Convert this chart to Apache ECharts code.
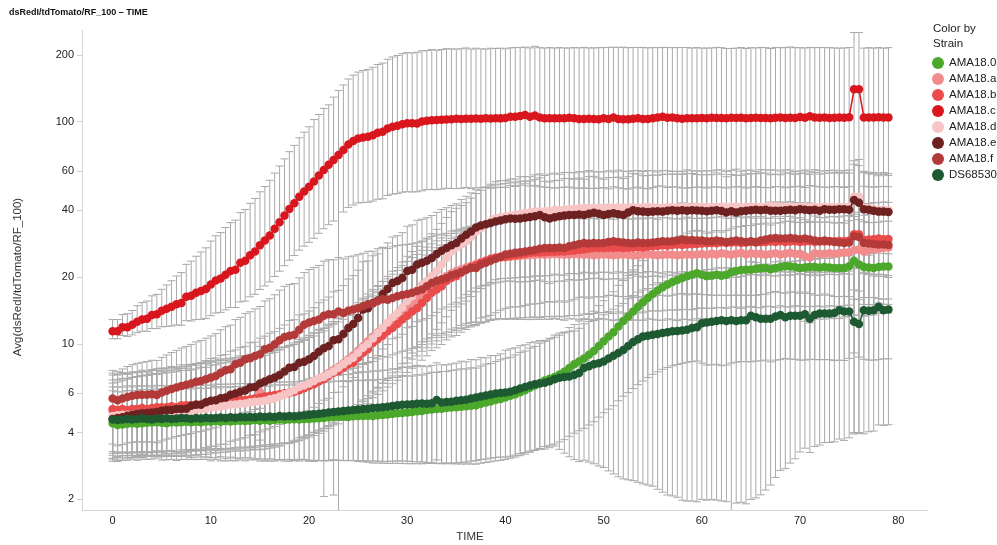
<!DOCTYPE html>
<html><head><meta charset="utf-8">
<script src="https://cdn.jsdelivr.net/npm/echarts@6/dist/echarts.min.js"></script>
<style>html,body{margin:0;padding:0;background:#fff}#c{width:997px;height:545px}</style>
</head><body><div id="c"></div>
<script>
// ---------- DATA ----------
const times = [
0,0.5,1,1.5,2,2.5,3,3.5,4,4.5, 5,5.5,6,6.5,7,7.5,8,8.5,9,9.5,
10,10.5,11,11.5,12,12.5,13,13.5,14,14.5, 15,15.5,16,16.5,17,17.5,18,18.5,19,19.5,
20,20.5,21,21.5,22,22.5,23,23.5,24,24.5, 25,25.5,26,26.5,27,27.5,28,28.5,29,29.5,
30,30.5,31,31.5,32,32.5,33,33.5,34,34.5, 35,35.5,36,36.5,37,37.5,38,38.5,39,39.5,
40,40.5,41,41.5,42,42.5,43,43.5,44,44.5, 45,45.5,46,46.5,47,47.5,48,48.5,49,49.5,
50,50.5,51,51.5,52,52.5,53,53.5,54,54.5, 55,55.5,56,56.5,57,57.5,58,58.5,59,59.5,
60,60.5,61,61.5,62,62.5,63,63.5,64,64.5, 65,65.5,66,66.5,67,67.5,68,68.5,69,69.5,
70,70.5,71,71.5,72,72.5,73,73.5,74,74.5, 75,75.5,76,76.5,77,77.5,78,78.5,79];

const xTicks = [0,10,20,30,40,50,60,70,80];
const yTicks = [2,4,6,10,20,40,60,100,200];

const strains = ['AMA18.0','AMA18.a','AMA18.b','AMA18.c','AMA18.d','AMA18.e','AMA18.f','DS68530'];

const ama0 = [
4.4,4.32,4.35,4.38,4.4,4.38,4.4,4.42,4.43,4.45,
4.42,4.4,4.45,4.43,4.45,4.47,4.45,4.47,4.45,4.48,
4.47,4.5,4.47,4.5,4.48,4.5,4.52,4.5,4.52,4.55,
4.52,4.55,4.52,4.55,4.57,4.55,4.57,4.59,4.58,4.6,
4.6,4.62,4.63,4.65,4.68,4.7,4.71,4.72,4.7,4.73,
4.74,4.75,4.76,4.75,4.78,4.8,4.82,4.85,4.88,4.9,
4.92,4.95,4.98,5.0,5.05,5.08,5.1,5.12,5.15,5.18,
5.2,5.22,5.25,5.28,5.3,5.38,5.45,5.52,5.6,5.66,
5.75,5.85,5.95,6.07,6.2,6.35,6.5,6.68,6.85,6.98,
7.1,7.3,7.5,7.8,8.1,8.35,8.6,8.95,9.3,9.8,
10.3,10.8,11.3,12.0,12.7,13.3,14.0,14.7,15.4,16.1,
16.8,17.4,18.0,18.5,19.0,19.4,19.8,20.2,20.5,20.8,
20.5,20.2,20.3,20.5,20.3,20.5,21.0,21.3,21.5,21.6,
21.6,21.8,21.9,22.0,21.7,22.0,22.2,22.4,22.3,22.2,
22.0,22.1,22.2,22.2,22.1,22.2,22.1,22.0,22.0,22.0,
22.4,23.7,22.8,22.2,22.1,22.0,22.2,22.3,22.3];

const amaA = [
5.0,5.0,5.05,5.0,5.05,5.05,5.1,5.05,5.1,5.1,
5.15,5.15,5.2,5.15,5.2,5.2,5.25,5.25,5.3,5.3,
5.35,5.35,5.4,5.4,5.45,5.45,5.5,5.55,5.6,5.6,
6.1,5.7,5.75,5.8,5.85,5.95,6.0,6.1,6.25,6.4,
6.6,6.78,6.95,7.15,7.4,7.65,7.9,8.2,8.55,8.9,
9.35,9.8,10.3,10.8,11.3,11.8,12.2,12.8,13.4,14.1,
14.8,15.4,16.0,16.8,17.5,18.2,18.9,19.6,20.2,20.8,
21.3,21.7,22.1,22.5,22.9,23.3,23.6,24.0,24.3,24.5,
24.6,24.7,24.8,24.9,25.0,25.1,25.2,25.3,25.2,25.3,
25.4,25.3,25.2,25.3,25.4,25.3,25.2,25.3,25.1,25.2,
25.3,25.2,25.1,25.2,25.3,25.2,25.0,25.1,25.2,25.3,
25.2,25.1,25.2,25.3,25.2,25.1,25.2,25.3,25.2,25.3,
25.4,25.2,25.5,25.3,25.6,25.4,25.2,25.5,25.7,25.3,
25.6,25.4,25.5,25.2,25.4,25.6,25.3,25.5,25.7,25.4,
25.5,24.8,24.5,25.6,25.4,25.5,25.6,25.5,25.7,25.8,
25.9,26.4,26.6,26.0,26.4,26.6,26.8,27.0,27.2];

const amaB = [
5.1,5.05,5.1,5.05,5.1,5.1,5.15,5.1,5.15,5.2,
5.2,5.2,5.25,5.2,5.3,5.3,5.3,5.35,5.35,5.4,
5.4,5.45,5.45,5.5,5.5,5.55,5.6,5.6,5.65,5.7,
5.75,5.8,5.85,5.9,5.95,6.0,6.05,6.1,6.2,6.33,
6.48,6.59,6.78,6.94,7.18,7.43,7.57,7.83,8.10,8.24,
8.68,9.14,9.47,10.1,10.5,10.9,11.4,11.8,12.3,12.9,
13.4,14.0,14.5,15.3,16.1,17.0,17.6,18.2,19.2,19.8,
20.2,20.9,21.6,22.2,22.6,23.2,23.7,24.2,24.5,24.6,
24.6,24.9,25.1,25.3,25.5,25.7,25.8,25.8,25.9,26.0,
26.0,26.1,26.1,26.2,26.3,26.5,26.6,26.8,27.0,27.0,
27.0,27.1,27.0,27.2,27.0,27.1,27.2,27.3,27.2,27.4,
27.5,27.6,27.8,27.7,27.9,28.0,27.9,28.0,28.1,28.2,
28.3,28.4,28.5,28.4,28.6,28.5,28.6,28.7,28.5,28.6,
28.8,28.6,28.7,28.8,28.9,28.8,29.0,28.8,28.9,29.0,
28.8,28.9,29.0,28.8,29.0,28.9,29.0,29.0,29.1,29.0,
29.2,31.2,31.2,29.4,29.5,29.6,29.8,29.6,29.7];

const amaC = [
11.4,11.4,11.9,11.9,12.2,12.6,12.9,13.0,13.5,13.6,
14.1,14.4,14.7,15.1,15.3,16.3,16.5,17.0,17.3,17.7,
18.5,19.3,19.7,20.5,21.3,21.6,23.2,23.7,25.1,26.1,
27.8,29.2,30.8,33.0,35.3,37.8,40.5,43.0,46.0,48.5,
51.0,53.8,57.3,60.7,64.0,67.2,70.8,74.6,79.0,81.8,
84.0,84.9,85.5,87.0,89.1,90.0,93.2,94.9,95.9,97.3,
98.3,98.5,98.2,100.2,100.9,101.6,101.8,102.0,102.4,102.6,
103.0,102.8,103.2,103.0,103.4,103.2,103.6,103.4,103.6,103.5,
103.8,105.3,105.3,106.1,107.2,105.3,106.5,104.5,103.6,103.6,
103.6,103.6,103.6,104.2,103.6,102.8,102.8,103.2,102.8,102.5,
103.6,102.8,104.5,102.8,102.5,102.5,103.2,103.6,102.8,102.8,
103.6,104.5,105.3,104.2,104.5,103.6,103.2,103.6,103.6,103.6,
104.0,103.6,104.2,103.8,104.0,103.6,104.2,104.0,104.2,103.6,
104.0,104.2,103.8,104.0,103.6,104.2,104.5,104.0,104.2,104.0,
105.0,104.2,105.8,104.5,104.2,104.5,104.0,104.2,104.5,104.2,
104.6,139.9,139.9,104.5,104.5,104.5,104.6,104.4,104.5];

const amaD = [
4.75,4.78,4.8,4.8,4.82,4.85,4.85,4.88,4.9,4.9,
4.92,4.95,4.95,4.97,5.0,5.0,5.0,5.05,5.1,5.1,
5.19,5.2,5.25,5.28,5.33,5.35,5.38,5.4,5.47,5.5,
5.52,5.56,5.64,5.7,5.8,5.95,6.05,6.2,6.4,6.5,
6.64,6.82,7.01,7.11,7.31,7.52,7.83,8.10,8.40,8.68,
9.14,9.63,10.0,10.6,11.2,11.8,12.5,13.2,13.8,14.6,
15.6,16.4,17.4,18.5,19.2,20.2,21.3,22.8,24.4,26.1,
27.2,28.0,29.0,30.4,32.1,33.2,34.4,35.6,36.8,37.2,
37.5,37.8,38.1,38.5,38.8,39.0,39.5,39.6,39.5,39.8,
40.2,40.0,40.2,40.5,40.6,40.8,41.0,41.0,40.8,41.0,
41.0,41.2,41.0,41.2,41.0,41.2,41.2,41.0,41.2,41.3,
41.2,41.0,41.0,41.2,41.2,41.0,41.2,41.3,41.2,41.4,
41.4,41.2,41.4,41.3,41.5,41.2,41.4,41.6,41.3,41.4,
41.5,41.2,41.4,41.6,41.8,41.5,41.4,41.3,41.5,41.2,
41.4,41.5,41.3,41.4,41.2,41.4,41.3,41.2,41.4,41.3,
41.5,46.0,46.0,41.0,40.8,40.5,40.2,40.2,40.0];

const amaE = [
4.6,4.65,4.68,4.76,4.81,4.85,4.88,4.9,4.92,4.95,
5.01,5.05,5.05,5.1,5.1,5.12,5.27,5.33,5.33,5.47,
5.55,5.58,5.7,5.74,5.91,5.99,6.1,6.18,6.37,6.41,
6.64,6.78,6.94,7.06,7.26,7.52,7.83,7.89,8.24,8.33,
8.53,8.83,9.24,9.56,9.80,10.4,10.5,11.1,11.8,12.3,
13.1,14.3,14.5,15.3,15.7,16.8,17.7,18.8,19.2,19.8,
21.3,21.6,22.8,23.2,23.7,24.4,25.4,26.3,27.0,27.8,
28.5,29.8,31.0,32.1,33.4,34.1,34.6,35.0,35.6,35.9,
36.4,36.7,36.6,36.7,37.0,37.3,37.6,38.0,37.2,36.7,
37.2,37.6,37.8,38.0,38.0,38.2,38.0,38.5,38.9,38.5,
38.0,38.4,38.7,38.3,38.0,39.0,40.0,39.6,39.4,39.2,
39.4,39.6,39.4,39.8,40.0,39.8,40.0,39.8,40.0,39.9,
39.8,39.6,39.8,40.0,39.7,39.0,39.6,39.0,39.6,39.8,
40.0,40.2,40.0,40.2,39.8,39.8,39.8,40.0,40.2,40.0,
40.4,40.2,40.0,40.2,39.8,40.4,40.2,40.2,40.4,40.4,
40.2,44.4,43.2,40.4,40.2,39.8,39.4,39.4,39.2];

const amaF = [
5.68,5.58,5.68,5.78,5.85,5.89,5.91,5.91,5.95,5.9,
6.05,6.16,6.27,6.37,6.48,6.55,6.64,6.76,6.82,6.94,
7.06,7.18,7.43,7.62,7.70,8.10,8.24,8.53,8.62,8.83,
8.99,9.47,9.63,9.97,10.4,10.75,10.9,11.0,11.6,12.2,
12.5,12.7,12.9,13.4,13.6,13.6,14.0,13.8,14.1,14.3,
14.5,14.8,15.1,15.2,15.6,15.9,15.8,16.1,16.4,16.6,
16.8,17.0,17.3,17.6,18.2,18.8,19.2,19.5,19.8,20.4,
20.7,21.1,21.6,22.0,22.0,22.8,23.2,23.7,24.2,24.7,
25.3,25.5,25.7,25.9,26.1,26.3,26.5,26.8,27.0,27.0,
27.0,27.2,27.0,27.5,27.8,28.2,28.5,28.3,28.5,28.4,
28.5,28.8,29.0,28.8,28.6,28.5,28.4,28.6,28.5,28.5,
28.6,28.8,29.0,28.9,29.0,29.2,29.5,29.3,29.4,29.2,
29.2,29.0,29.0,29.2,29.0,28.8,29.0,29.2,29.0,28.8,
29.0,28.8,29.2,29.5,29.8,30.0,29.8,29.8,30.0,29.8,
29.6,29.8,29.5,29.2,29.0,29.2,29.0,28.8,28.6,28.5,
28.6,30.5,30.3,28.5,28.3,28.2,28.0,28.0,27.9];

const ds68530 = [
4.58,4.55,4.57,4.6,4.58,4.6,4.62,4.6,4.58,4.62,
4.6,4.63,4.6,4.62,4.65,4.63,4.6,4.65,4.62,4.66,
4.63,4.65,4.67,4.65,4.68,4.66,4.7,4.68,4.7,4.68,
4.72,4.7,4.72,4.7,4.74,4.72,4.75,4.73,4.76,4.78,
4.8,4.83,4.85,4.88,4.92,4.95,4.97,5.0,5.02,5.05,
5.08,5.1,5.12,5.15,5.17,5.19,5.22,5.26,5.3,5.33,
5.35,5.36,5.38,5.4,5.38,5.42,5.6,5.45,5.48,5.5,
5.55,5.58,5.62,5.68,5.74,5.8,5.86,5.92,5.99,6.02,
6.05,6.1,6.2,6.3,6.4,6.5,6.6,6.65,6.7,6.8,
6.95,7.05,7.1,7.15,7.25,7.4,7.8,7.95,8.1,8.2,
8.35,8.6,8.85,9.1,9.4,9.8,10.2,10.5,10.8,10.9,
11.0,11.1,11.2,11.3,11.4,11.45,11.5,11.6,11.8,11.9,
12.4,12.5,12.6,12.7,12.8,12.7,12.8,12.7,12.8,12.8,
13.4,13.2,13.0,13.0,13.0,13.3,13.5,13.2,13.4,13.4,
13.4,13.6,13.0,13.5,13.7,13.7,13.7,13.8,14.2,14.0,
14.0,12.6,12.3,14.2,14.1,14.2,14.7,14.2,14.3];

// error-bar spread: upper multiplier and lower divisor per point
const errUpC = [
1.13,1.13,1.14,1.15,1.16,1.18,1.19,1.2,1.22,1.23,
1.25,1.28,1.31,1.34,1.37,1.4,1.43,1.46,1.5,1.53,
1.57,1.59,1.61,1.63,1.65,1.67,1.68,1.7,1.71,1.73,
1.74,1.75,1.77,1.78,1.79,1.8,1.81,1.82,1.84,1.85,
1.86,1.9,1.88,1.89,1.86,1.92,1.95,1.96,1.97,1.98,
1.99,2.0,2.01,2.02,2.03,2.04,2.05,2.06,2.07,2.08,
2.08,2.07,2.09,2.08,2.07,2.08,2.06,2.07,2.08,2.07,
2.06,2.07,2.08,2.06,2.07,2.06,2.05,2.07,2.06,2.07,
2.05,2.04,2.05,2.03,2.02,2.04,2.05,2.06,2.07,2.08,
2.07,2.08,2.07,2.06,2.08,2.09,2.1,2.08,2.09,2.1,
2.08,2.1,2.07,2.1,2.11,2.1,2.09,2.08,2.1,2.09,
2.08,2.06,2.05,2.07,2.06,2.08,2.09,2.08,2.07,2.08,
2.06,2.07,2.06,2.08,2.07,2.06,2.05,2.06,2.07,2.06,
2.07,2.06,2.08,2.07,2.06,2.07,2.06,2.07,2.08,2.07,
2.05,2.06,2.04,2.06,2.07,2.06,2.07,2.06,2.05,2.06,
2.06,1.8,1.8,2.05,2.06,2.05,2.06,2.05,2.06];
const errLoC = [
1.08,1.08,1.09,1.1,1.11,1.12,1.13,1.14,1.15,1.16,
1.18,1.2,1.22,1.24,1.26,1.28,1.3,1.32,1.34,1.36,
1.38,1.4,1.42,1.44,1.46,1.48,1.5,1.52,1.54,1.56,
1.58,1.6,1.62,1.64,1.66,1.68,1.7,1.72,1.74,1.76,
1.78,1.8,1.82,1.84,1.86,1.88,60,1.9,1.92,1.94,
1.95,1.96,1.97,1.98,1.99,2.0,2.0,2.01,2.02,2.02,
2.03,2.04,2.03,2.05,2.04,2.05,2.06,2.05,2.04,2.05,
2.06,2.05,2.04,2.06,2.05,2.04,2.05,2.06,2.05,2.04,
2.05,2.04,2.06,2.05,2.04,2.05,2.06,2.05,2.04,2.05,
2.06,2.05,2.04,2.05,2.06,2.05,2.04,2.06,2.05,2.04,
2.05,2.06,2.05,2.04,2.05,2.06,2.05,2.04,2.05,2.06,
2.05,2.04,2.05,2.06,2.05,2.04,2.05,2.06,2.05,2.04,
2.05,2.06,2.05,2.04,2.05,2.06,2.05,2.04,2.05,2.06,
2.05,2.04,2.05,2.06,2.05,2.04,2.05,2.06,2.05,2.04,
2.05,2.06,2.05,2.04,2.05,2.06,2.05,2.04,2.05,2.06,
2.05,35,35,2.04,2.05,2.06,2.05,2.04,2.05];
const errUpMid = [
1.45,1.45,1.46,1.46,1.47,1.47,1.48,1.48,1.49,1.49,
1.5,1.5,1.51,1.51,1.52,1.52,1.53,1.53,1.54,1.54,
1.55,1.55,1.56,1.56,1.57,1.57,1.58,1.58,1.59,1.59,
1.6,1.6,1.61,1.61,1.62,1.62,1.63,1.63,1.64,1.64,
1.65,1.65,1.66,1.65,1.66,1.65,1.66,1.65,1.66,1.65,
1.64,1.64,1.63,1.63,1.62,1.62,1.61,1.61,1.6,1.6,
1.59,1.59,1.58,1.57,1.56,1.55,1.54,1.53,1.52,1.51,
1.5,1.5,1.49,1.49,1.48,1.48,1.47,1.47,1.46,1.46,
1.45,1.46,1.45,1.47,1.46,1.45,1.46,1.47,1.45,1.46,
1.46,1.45,1.47,1.46,1.45,1.46,1.45,1.47,1.46,1.45,
1.45,1.46,1.45,1.47,1.46,1.45,1.46,1.47,1.45,1.46,
1.46,1.45,1.47,1.46,1.45,1.46,1.45,1.47,1.46,1.45,
1.45,1.46,1.45,1.47,1.46,1.45,1.46,1.47,1.45,1.46,
1.46,1.45,1.47,1.46,1.45,1.46,1.45,1.47,1.46,1.45,
1.45,1.46,1.45,1.47,1.46,1.45,1.46,1.47,1.45,1.46,
1.46,1.45,1.47,1.46,1.45,1.46,1.45,1.47,1.46];
const errLoMid = [
1.55,1.55,1.56,1.55,1.56,1.56,1.57,1.56,1.57,1.57,
1.58,1.57,1.58,1.58,1.59,1.58,1.59,1.59,1.6,1.6,
1.6,1.61,1.61,1.62,1.62,1.62,1.63,1.63,1.64,1.64,
1.65,1.65,1.66,1.66,1.67,1.67,1.68,1.68,1.69,1.69,
1.7,1.7,1.71,1.71,1.72,1.72,1.73,1.73,1.74,1.74,
1.75,1.75,1.76,1.76,1.77,1.77,1.78,1.78,1.79,1.79,
1.8,1.8,1.81,1.81,1.82,1.82,1.83,1.83,1.84,1.84,
1.85,1.85,1.86,1.86,1.87,1.87,1.88,1.88,1.89,1.89,
1.9,1.91,1.92,1.93,1.94,1.95,1.95,1.96,1.95,1.96,
1.95,1.96,1.97,1.95,1.96,1.97,1.95,1.96,1.97,1.95,
1.95,1.96,1.97,1.95,1.96,1.97,1.95,1.96,1.97,1.95,
1.95,1.96,1.97,1.95,1.96,1.97,1.95,1.96,1.97,1.95,
1.95,1.96,1.97,1.95,1.96,1.97,1.95,1.96,1.97,1.95,
1.95,1.96,1.97,1.95,1.96,1.97,1.95,1.96,1.97,1.95,
1.95,1.96,1.97,1.95,1.96,1.97,1.95,1.96,1.97,1.95,
1.95,1.96,1.97,1.95,1.96,1.97,1.95,1.96,1.97];
const errUpF = [
1.34,1.35,1.36,1.37,1.38,1.39,1.4,1.41,1.42,1.43,
1.44,1.45,1.46,1.47,1.48,1.49,1.5,1.51,1.52,1.53,
1.54,1.55,1.56,1.57,1.58,1.59,1.6,1.61,1.62,1.63,
1.64,1.65,1.66,1.67,1.68,1.69,1.7,1.7,1.71,1.72,
1.73,1.74,1.75,1.76,1.76,1.76,1.75,1.75,1.75,1.74,
1.74,1.73,1.73,1.72,1.72,1.71,1.7,1.7,1.69,1.68,
1.67,1.66,1.65,1.64,1.63,1.62,1.61,1.6,1.59,1.58,
1.57,1.56,1.55,1.54,1.53,1.52,1.51,1.5,1.49,1.48,
1.47,1.46,1.46,1.45,1.46,1.45,1.46,1.45,1.46,1.45,
1.46,1.45,1.46,1.45,1.46,1.45,1.46,1.45,1.46,1.45,
1.46,1.45,1.46,1.45,1.46,1.45,1.46,1.45,1.46,1.45,
1.46,1.45,1.46,1.45,1.46,1.45,1.46,1.45,1.46,1.45,
1.46,1.45,1.46,1.45,1.46,1.45,1.46,1.45,1.46,1.45,
1.46,1.45,1.46,1.45,1.46,1.45,1.46,1.45,1.46,1.45,
1.46,1.45,1.46,1.45,1.46,1.45,1.46,1.45,1.46,1.45,
1.46,1.45,1.46,1.45,1.46,1.45,1.46,1.45,1.46];
const errLoF = [
1.6,1.6,1.61,1.61,1.62,1.62,1.63,1.63,1.64,1.64,
1.65,1.65,1.66,1.66,1.67,1.67,1.68,1.68,1.69,1.69,
1.7,1.7,1.71,1.71,1.72,1.72,1.73,1.73,1.74,1.74,
1.75,1.75,1.76,1.76,1.77,1.77,1.78,1.78,1.79,1.79,
1.8,1.8,1.81,6.5,1.82,6.5,1.83,1.83,1.84,1.84,
1.84,1.83,1.83,1.82,1.82,1.81,1.81,1.8,1.8,1.79,
1.79,1.78,1.78,1.77,1.77,1.76,1.76,1.75,1.75,1.75,
1.75,1.74,1.75,1.76,1.75,1.74,1.75,1.76,1.75,1.74,
1.75,1.74,1.75,1.76,1.75,1.74,1.75,1.76,1.75,1.74,
1.75,1.74,1.75,1.76,1.75,1.74,1.75,1.76,1.75,1.74,
1.75,1.74,1.75,1.76,1.75,1.74,1.75,1.76,1.75,1.74,
1.75,1.74,1.75,1.76,1.75,1.74,1.75,1.76,1.75,1.74,
1.75,1.74,1.75,1.76,1.75,1.74,1.75,1.76,1.75,1.74,
1.75,1.74,1.75,1.76,1.75,1.74,1.75,1.76,1.75,1.74,
1.75,1.74,1.75,1.76,1.75,1.74,1.75,1.76,1.75,1.74,
1.75,1.74,1.75,1.76,1.75,1.74,1.75,1.76,1.75];
const errUpG = [
1.4,1.41,1.4,1.41,1.4,1.41,1.42,1.41,1.4,1.41,
1.41,1.42,1.41,1.42,1.41,1.42,1.41,1.42,1.42,1.41,
1.42,1.43,1.42,1.43,1.42,1.43,1.42,1.43,1.43,1.42,
1.43,1.42,1.43,1.44,1.43,1.44,1.43,1.44,1.43,1.44,
1.44,1.45,1.44,1.45,1.44,1.45,1.44,1.45,1.44,1.45,
1.45,1.44,1.45,1.44,1.45,1.44,1.45,1.46,1.45,1.46,
1.46,1.45,1.46,1.45,1.46,1.47,1.46,1.47,1.46,1.47,
1.47,1.48,1.47,1.48,1.47,1.48,1.49,1.48,1.49,1.5,
1.5,1.49,1.5,1.51,1.5,1.51,1.5,1.51,1.5,1.51,
1.51,1.5,1.51,1.52,1.51,1.52,1.51,1.52,1.51,1.52,
1.52,1.53,1.52,1.53,1.52,1.53,1.54,1.53,1.54,1.55,
1.55,1.54,1.55,1.56,1.55,1.56,1.55,1.56,1.57,1.56,
1.57,1.56,1.57,1.58,1.57,1.58,1.57,1.58,1.57,1.58,
1.58,1.59,1.58,1.59,1.58,1.59,1.58,1.59,1.6,1.59,
1.6,1.59,1.6,1.59,1.6,1.59,1.6,1.59,1.6,1.59,
1.6,1.58,1.59,1.6,1.59,1.6,1.59,1.6,1.6];
const errLoG = [
1.45,1.46,1.45,1.46,1.45,1.46,1.45,1.46,1.46,1.45,
1.47,1.46,1.47,1.48,1.47,1.48,1.47,1.48,1.47,1.48,
1.5,1.49,1.5,1.51,1.5,1.51,1.5,1.51,1.5,1.51,
1.52,1.53,1.52,1.53,1.52,1.53,1.54,1.53,1.54,1.53,
1.55,1.56,1.55,1.56,1.57,1.56,1.57,1.58,1.57,1.58,
1.6,1.61,1.62,1.63,1.64,1.65,1.66,1.67,1.68,1.69,
1.7,1.71,1.72,1.73,1.74,1.75,1.76,1.77,1.78,1.79,
1.8,1.81,1.82,1.83,1.84,1.85,1.86,1.87,1.88,1.89,
1.9,1.91,1.92,1.93,1.94,1.95,1.96,1.97,1.98,1.99,
2.0,2.01,2.02,2.03,2.04,2.05,2.06,2.07,2.08,2.09,
2.1,2.12,2.14,2.16,2.18,2.2,2.22,2.24,2.26,2.28,
2.3,2.32,2.34,2.36,2.38,2.4,2.42,2.44,2.46,2.48,
2.5,2.51,2.52,2.53,2.54,2.55,2.56,2.57,2.58,2.59,
2.6,2.6,2.61,2.6,2.61,2.6,2.61,2.6,2.61,2.6,
2.6,2.61,2.6,2.61,2.6,2.61,2.6,2.61,2.6,2.61,
2.6,2.6,2.61,2.6,2.61,2.6,2.61,2.6,2.6];
const errUpDG = [
1.4,1.41,1.4,1.41,1.4,1.41,1.4,1.41,1.4,1.41,
1.41,1.4,1.41,1.4,1.41,1.4,1.41,1.4,1.41,1.4,
1.41,1.42,1.41,1.42,1.41,1.42,1.41,1.42,1.41,1.42,
1.42,1.43,1.42,1.43,1.42,1.43,1.42,1.43,1.42,1.43,
1.45,1.46,1.45,1.46,1.45,1.46,1.45,1.46,1.45,1.46,
1.46,1.47,1.46,1.47,1.46,1.47,1.46,1.47,1.46,1.47,
1.47,1.48,1.47,1.48,1.47,1.48,1.47,1.48,1.47,1.48,
1.48,1.5,1.48,1.5,1.48,1.5,1.48,1.5,1.48,1.5,
1.55,1.56,1.55,1.56,1.55,1.56,1.55,1.56,1.55,1.56,
1.58,1.59,1.58,1.59,1.58,1.59,1.58,1.59,1.58,1.59,
1.62,1.63,1.62,1.63,1.62,1.63,1.62,1.63,1.62,1.63,
1.68,1.7,1.68,1.7,1.68,1.7,1.68,1.7,1.68,1.7,
1.72,1.73,1.72,1.73,1.72,1.73,1.72,1.73,1.72,1.73,
1.75,1.76,1.75,1.76,1.75,1.76,1.75,1.76,1.75,1.76,
1.77,1.78,1.77,1.78,1.77,1.78,1.77,1.78,1.77,1.78,
1.78,1.8,1.78,1.8,1.78,1.8,1.78,1.8,1.78];
const errLoDG = [
1.45,1.46,1.45,1.46,1.45,1.46,1.45,1.46,1.45,1.46,
1.47,1.48,1.47,1.48,1.49,1.48,1.49,1.48,1.49,1.5,
1.5,1.51,1.5,1.52,1.51,1.52,1.53,1.52,1.53,1.54,
1.55,1.56,1.55,1.56,1.57,1.56,1.57,1.58,1.57,1.58,
1.6,1.61,1.62,1.63,1.64,1.65,1.66,1.67,1.68,1.69,
1.7,1.71,1.72,1.73,1.74,1.75,1.76,1.77,1.78,1.79,
1.8,1.81,1.82,1.83,1.84,1.85,1.86,1.87,1.88,1.89,
1.9,1.9,1.91,1.91,1.92,1.92,1.93,1.93,1.94,1.94,
1.95,1.95,1.96,1.96,1.97,1.97,1.98,1.98,1.99,1.99,
2.0,2.1,2.2,2.3,2.4,2.5,2.6,2.7,2.8,2.9,
3.0,3.2,3.4,3.6,3.8,4.0,4.2,4.4,4.6,4.7,
4.8,5.0,5.2,5.4,5.5,5.6,5.8,5.9,6.0,6.1,
6.2,6.3,6.3,6.4,6.5,6.5,20,6.6,6.6,6.7,
6.7,6.5,6.2,5.9,5.6,5.3,5.0,4.8,4.6,4.4,
4.1,4.0,4.0,3.9,3.9,3.8,3.8,3.8,3.8,3.8,
3.7,3.2,3.1,3.6,3.5,3.5,3.4,3.3,3.3];

// ---------- CHART ----------
const FONT = "'Liberation Sans', Arial, Helvetica, sans-serif";
const Y_MIN = 1.792, Y_MAX = 258.5;
const X_MIN = -3.12, X_MAX = 83.03;
const BAR = '#a9a9a9';

const seriesDefs = [
  {name: strains[0], color: '#4ba82a', vals: ama0,    up: errUpG,   lo: errLoG},
  {name: strains[1], color: '#f28b8b', vals: amaA,    up: errUpMid, lo: errLoMid},
  {name: strains[2], color: '#ea4b4b', vals: amaB,    up: errUpMid, lo: errLoMid},
  {name: strains[3], color: '#d9161d', vals: amaC,    up: errUpC,   lo: errLoC},
  {name: strains[4], color: '#f7c5c5', vals: amaD,    up: errUpMid, lo: errLoMid},
  {name: strains[5], color: '#6e2121', vals: amaE,    up: errUpMid, lo: errLoMid},
  {name: strains[6], color: '#b43a3a', vals: amaF,    up: errUpF,   lo: errLoF},
  {name: strains[7], color: '#1e5a31', vals: ds68530, up: errUpDG,  lo: errLoDG}
];

function errSeries(d, k) {
  return {
    type: 'custom', name: d.name + ' err', silent: true, z: 1,
    clip: true, animation: false, legendHoverLink: false,
    encode: {x: 0, y: 1},
    data: times.map((t, i) => [t, d.vals[i], d.vals[i] * d.up[i], d.vals[i] / d.lo[i]]),
    renderItem: function (params, api) {
      const x = api.value(0), hi = api.value(2), lw = api.value(3);
      const pT = api.coord([x, Math.min(hi, Y_MAX)]);
      const pB = api.coord([x, Math.max(lw, Y_MIN)]);
      const st = {stroke: BAR, lineWidth: 1};
      const ch = [{type: 'line', shape: {x1: pT[0], y1: pT[1], x2: pB[0], y2: pB[1]}, style: st}];
      if (hi < Y_MAX) ch.push({type: 'line', shape: {x1: pT[0] - 4, y1: pT[1], x2: pT[0] + 4, y2: pT[1]}, style: st});
      if (lw > Y_MIN) ch.push({type: 'line', shape: {x1: pB[0] - 4, y1: pB[1], x2: pB[0] + 4, y2: pB[1]}, style: st});
      return {type: 'group', children: ch};
    }
  };
}

function lineSeries(d, k) {
  return {
    type: 'line', name: d.name, z: 10 + k, animation: false,
    data: times.map((t, i) => [t, d.vals[i]]),
    symbol: 'circle', symbolSize: 8.5, showSymbol: true, showAllSymbol: true,
    itemStyle: {color: d.color, borderWidth: 0},
    lineStyle: {color: d.color, width: 1.5},
    emphasis: {disabled: true}
  };
}

const series = [];
seriesDefs.forEach((d, k) => series.push(errSeries(d, k)));
seriesDefs.forEach((d, k) => series.push(lineSeries(d, k)));

const chart = echarts.init(document.getElementById('c'), null, {renderer: 'canvas'});
chart.setOption({
  animation: false,
  backgroundColor: '#fff',
  textStyle: {fontFamily: FONT},
  grid: {left: 82, right: 69, top: 30, bottom: 35, containLabel: false},
  xAxis: {
    type: 'value', min: X_MIN, max: X_MAX,
    axisLine: {show: true, onZero: false, lineStyle: {color: '#d6d6d6', width: 1}},
    axisTick: {show: false},
    splitLine: {show: false},
    axisLabel: {customValues: xTicks, fontSize: 11, color: '#222', fontFamily: FONT, margin: 5}
  },
  yAxis: {
    type: 'log', logBase: 10, min: Y_MIN, max: Y_MAX,
    axisLine: {show: true, onZero: false, lineStyle: {color: '#d6d6d6', width: 1}},
    axisTick: {show: true, length: 5, customValues: yTicks, lineStyle: {color: '#cfcfcf'}},
    splitLine: {show: false},
    axisLabel: {customValues: yTicks, fontSize: 11, color: '#222', fontFamily: FONT, margin: 8,
      formatter: v => String(Math.round(v))}
  },
  legend: {
    data: strains, orient: 'vertical', left: 932, top: 57,
    itemWidth: 12, itemHeight: 12, itemGap: 4, padding: 0, icon: 'circle',
    textStyle: {fontSize: 11.5, color: '#222', fontFamily: FONT},
    selectedMode: false
  },
  graphic: [
    {type: 'text', x: 9, y: 13, style: {text: 'dsRedI/tdTomato/RF_100 \u2013 TIME', font: 'bold 9px ' + FONT, fill: '#111', verticalAlign: 'middle'}},
    {type: 'text', x: 18, y: 277, rotation: Math.PI / 2, style: {text: 'Avg(dsRedI/tdTomato/RF_100)', font: '11.5px ' + FONT, fill: '#333', align: 'center', verticalAlign: 'middle'}},
    {type: 'text', x: 470, y: 537, style: {text: 'TIME', font: '11.5px ' + FONT, fill: '#333', align: 'center', verticalAlign: 'middle'}},
    {type: 'text', x: 933, y: 29, style: {text: 'Color by', font: '11.5px ' + FONT, fill: '#222', verticalAlign: 'middle'}},
    {type: 'text', x: 933, y: 44, style: {text: 'Strain', font: '11.5px ' + FONT, fill: '#222', verticalAlign: 'middle'}}
  ],
  series: series
});
</script>
</body></html>
